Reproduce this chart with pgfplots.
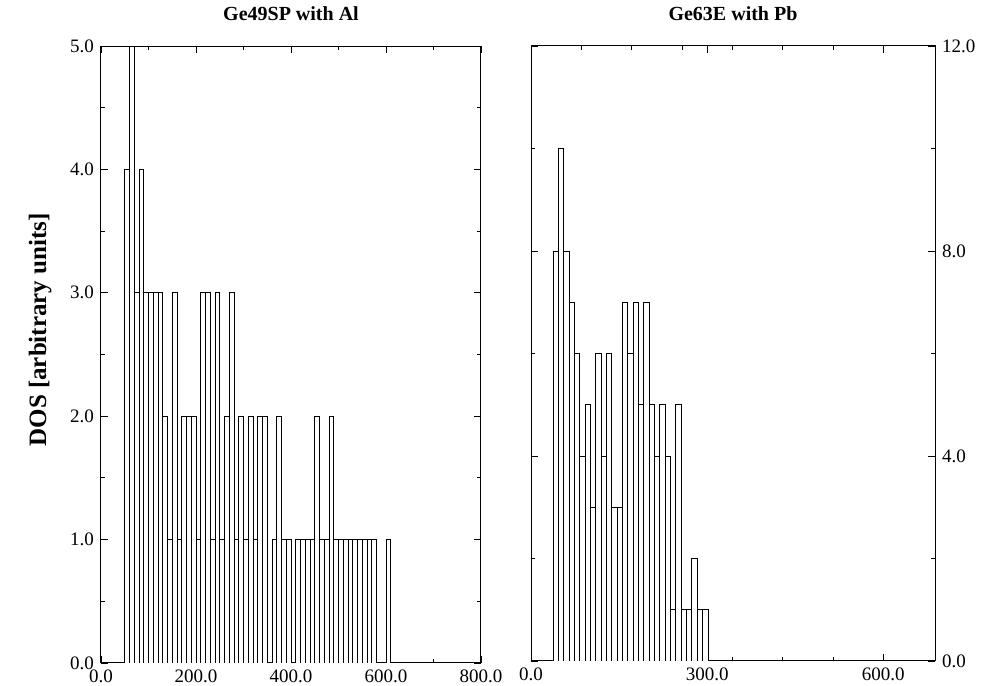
\documentclass[border=0pt]{standalone}
\usepackage{fontspec}
\setmainfont{Liberation Serif}
\usepackage{pgfplots}
\pgfplotsset{compat=1.18}
\pgfplotsset{
  dosaxis/.style={
    scale only axis, anchor=south west,
    axis line style={line width=0.5pt},
    every tick/.style={black, line width=0.4pt},
    major tick length=3.5pt, minor tick length=2pt,
    tick label style={font=\fontsize{9.5}{11}\selectfont,
      /pgf/number format/fixed, /pgf/number format/fixed zerofill,
      /pgf/number format/precision=1, /pgf/number format/assume math mode=true},
    title style={font=\bfseries\fontsize{10}{12}\selectfont, yshift=3pt},
    ymin=0, clip=true,
  },
  dosbar/.style={ybar, bar width=#1, fill=white, draw=black, line width=0.45pt},
}
\begin{document}
\begin{tikzpicture}
\useasboundingbox (0,0) rectangle (491pt,343pt);
\begin{axis}[dosaxis, at={(50.5pt,11.5pt)}, width=190pt, height=308.5pt,
  xmin=0, xmax=800, ymax=5,
  xtick={0,200,400,600,800}, minor xtick={100,300,500,700},
  ytick={0,1,2,3,4,5}, minor ytick={0.5,1.5,2.5,3.5,4.5},
  title={Ge49SP with Al},
  ylabel={DOS [arbitrary units]},
  ylabel style={font=\bfseries\fontsize{12.5}{14}\selectfont, at={(axis description cs:-0.16,0.54)}, anchor=center}]
\addplot[dosbar=10] coordinates {
(55,4) (65,5) (75,3) (85,4) (95,3) (105,3) (115,3) (125,3) (135,2) (145,1)
(155,3) (165,1) (175,2) (185,2) (195,2) (205,1) (215,3) (225,3) (235,1) (245,3)
(255,1) (265,2) (275,3) (285,1) (295,2) (305,1) (315,2) (325,1) (335,2) (345,2)
(365,1) (375,2) (385,1) (395,1) (415,1) (425,1) (435,1) (445,1) (455,2) (465,1)
(475,1) (485,2) (495,1) (505,1) (515,1) (525,1) (535,1) (545,1) (555,1) (565,1)
(575,1) (605,1)
};
\end{axis}
\begin{axis}[dosaxis, at={(265.5pt,12.5pt)}, width=202pt, height=307.5pt,
  xmin=0, xmax=688, ymax=12,
  xtick={0,300,600}, minor xtick={85.75,171.5,257.25,343,428.75,514.5},
  ytick={0,4,8,12}, minor ytick={2,6,10},
  yticklabel pos=right,
  title={Ge63E with Pb}]
\addplot[dosbar=9.1] coordinates {
(42.0,8) (51.1,10) (60.2,8) (69.3,7) (78.4,6) (87.5,4) (96.6,5) (105.7,3) (114.8,6) (123.9,4)
(133.0,6) (142.1,3) (151.2,3) (160.3,7) (169.4,6) (178.5,7) (187.6,5) (196.7,7) (205.8,5) (214.9,4)
(224.0,5) (233.1,4) (242.2,1) (251.3,5) (260.4,1) (269.5,1) (278.6,2) (287.7,1) (296.8,1)
};
\end{axis}
\end{tikzpicture}
\end{document}
